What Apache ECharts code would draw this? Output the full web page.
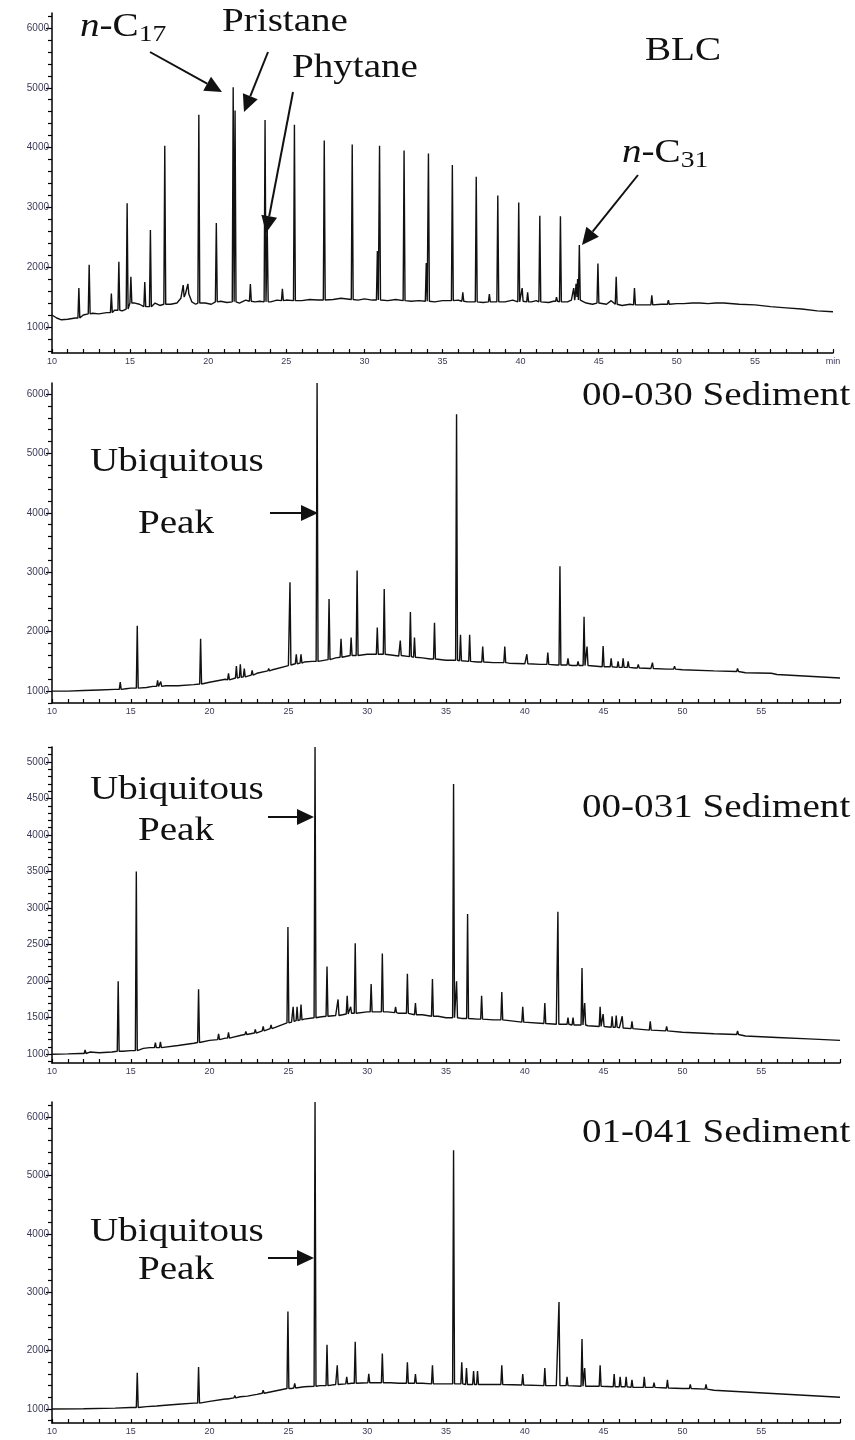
<!DOCTYPE html>
<html><head><meta charset="utf-8">
<script src="https://cdn.jsdelivr.net/npm/echarts@6/dist/echarts.min.js"></script>
<style>html,body{margin:0;padding:0;background:#fff}#c{width:855px;height:1440px}</style>
</head><body><div id="c"></div>
<script>
// ---------- DATA (retention time in min, abundance) ----------
const xTickLabels = [10, 15, 20, 25, 30, 35, 40, 45, 50, 55];
const yTicksMain = [1000, 2000, 3000, 4000, 5000, 6000];
const yTicksP3 = [1000, 1500, 2000, 2500, 3000, 3500, 4000, 4500, 5000];

// Panel 1: BLC  baseline [t, v]; peaks [t, base, top]
const blcBaseline = [[10,1200],[10.3,1150],[10.6,1120],[11,1130],[11.5,1150],[12,1200],[12.6,1230],[13,1220],[13.5,1240],[14,1280],[14.5,1270],[15.3,1400],[15.6,1380],[16,1330],[16.6,1400],[16.9,1360],[17.6,1380],[18,1400],[18.25,1480],[18.55,1560],[18.95,1420],[19.2,1380],[19.8,1400],[20.2,1380],[20.8,1430],[21.2,1410],[22,1400],[22.4,1450],[23,1420],[23.3,1430],[24,1420],[24.4,1450],[25,1450],[26,1440],[26.5,1460],[27,1450],[28,1460],[28.5,1480],[29.6,1450],[30,1470],[30.5,1450],[31.5,1440],[32,1460],[33,1430],[33.5,1440],[34.5,1420],[35,1440],[36,1450],[36.6,1420],[37.6,1410],[38,1440],[39,1420],[39.5,1450],[40.7,1420],[41,1440],[41.8,1410],[42.1,1430],[43,1420],[43.25,1450],[44.2,1400],[44.6,1380],[45.5,1380],[45.8,1440],[46.5,1360],[47,1380],[47.7,1370],[48,1370],[49,1380],[50,1390],[51,1400],[52,1390],[53,1400],[54,1380],[55,1370],[56,1340],[57,1320],[58,1300],[59,1270],[60,1255]];
const blcPeaks = [[11.72,1150,1650],[12.38,1220,2040],[13.8,1240,1560],[14.28,1280,2090],[14.81,1300,3070],[15.05,1400,1840],[15.94,1340,1750],[16.3,1340,2620],[17.22,1380,4030],[18.4,1500,1700],[18.7,1550,1720],[19.4,1400,4550],[20.52,1420,2740],[21.6,1420,5010],[21.72,1420,4620],[22.7,1430,1720],[23.64,1420,4460],[23.78,1420,2650],[24.75,1440,1640],[25.52,1440,4380],[27.43,1450,4120],[29.22,1460,4050],[30.83,1450,2270],[30.97,1450,4030],[32.54,1440,3950],[33.96,1430,2070],[34.1,1430,3900],[35.63,1440,3710],[36.3,1430,1580],[37.16,1420,3510],[38.0,1420,1550],[38.54,1420,3200],[39.88,1420,3080],[40.1,1430,1650],[40.45,1420,1580],[41.23,1420,2860],[42.3,1430,1500],[42.55,1420,2850],[43.4,1450,1650],[43.55,1500,1720],[43.65,1600,1800],[43.76,1450,2370],[44.95,1400,2060],[46.12,1380,1840],[47.29,1370,1650],[48.4,1370,1530],[49.46,1380,1450],[50.49,1390,1420],[51.55,1400,1420],[52.53,1400,1410]];

// Panel 2: 00-030 Sediment
const s030Baseline = [[10,1000],[11,1000],[12,1010],[13,1020],[14,1030],[14.7,1040],[15,1050],[16,1060],[16.4,1080],[17.2,1090],[18,1090],[19,1110],[20,1150],[21,1200],[22,1250],[23,1300],[24,1360],[25,1430],[26,1490],[26.5,1500],[27,1520],[28,1560],[29,1600],[30,1620],[31,1620],[32,1590],[33.5,1560],[34,1540],[35,1520],[36,1500],[37,1490],[38,1480],[39,1470],[40,1460],[41,1450],[42,1440],[43,1430],[44,1420],[45,1410],[46,1400],[47,1390],[48,1380],[49,1370],[50,1360],[52,1340],[54,1310],[56,1280],[58,1250],[60,1220]];
const s030Peaks = [[14.33,1030,1150],[15.41,1050,2100],[16.7,1080,1180],[16.9,1080,1160],[19.43,1120,1880],[21.2,1190,1300],[21.7,1220,1420],[21.95,1230,1450],[22.2,1240,1380],[22.7,1270,1350],[23.75,1340,1380],[25.1,1440,2830],[25.5,1460,1620],[25.8,1470,1620],[26.82,1500,6185],[27.58,1530,2550],[28.34,1570,1880],[28.98,1600,1900],[29.36,1600,3030],[30.64,1620,2070],[31.08,1620,2720],[32.1,1600,1850],[32.74,1580,2330],[33.0,1570,1900],[34.27,1540,2150],[35.67,1520,5660],[35.92,1510,1950],[36.5,1500,1950],[37.33,1490,1750],[38.73,1480,1750],[40.13,1460,1620],[41.46,1450,1650],[42.23,1440,3100],[42.74,1440,1550],[43.38,1430,1500],[43.76,1430,2250],[43.95,1430,1750],[44.97,1410,1760],[45.48,1410,1550],[45.92,1400,1500],[46.24,1400,1550],[46.56,1400,1500],[47.2,1390,1450],[48.1,1380,1480],[49.5,1370,1420],[53.5,1330,1380],[55.7,1300,1330]];

// Panel 3: 00-031 Sediment
const s031Baseline = [[10,1000],[11,1005],[11.8,1010],[12.4,1030],[13,1020],[13.8,1030],[14.5,1040],[15,1050],[15.8,1080],[16.2,1090],[17,1100],[18,1120],[19,1150],[20,1190],[21,1220],[22,1260],[23,1300],[24,1360],[25.2,1440],[26,1480],[27,1510],[28,1530],[29,1560],[30,1580],[31.3,1580],[32,1560],[33.5,1540],[34.5,1520],[35,1500],[36,1490],[37,1480],[38,1470],[40,1440],[42,1410],[44,1390],[46,1360],[48,1330],[50,1300],[52,1280],[54,1250],[56,1230],[58,1210],[60,1190]];
const s031Peaks = [[12.1,1010,1060],[14.2,1040,2000],[15.35,1050,3500],[16.56,1090,1160],[16.88,1090,1170],[19.3,1160,1890],[20.57,1200,1280],[21.2,1220,1300],[22.3,1270,1310],[22.9,1290,1340],[23.4,1320,1380],[23.9,1350,1400],[24.97,1430,2740],[25.3,1450,1650],[25.55,1460,1650],[25.8,1470,1680],[26.69,1500,5205],[27.45,1520,2200],[28.15,1530,1750],[28.73,1550,1800],[28.95,1560,1650],[29.24,1560,2520],[30.25,1580,1960],[30.96,1580,2380],[31.8,1570,1650],[32.55,1560,2100],[33.06,1540,1700],[34.14,1520,2030],[35.48,1500,4700],[35.67,1500,2000],[36.37,1490,2920],[37.26,1480,1800],[38.54,1470,1850],[39.87,1440,1650],[41.27,1420,1700],[42.1,1410,2950],[42.74,1410,1500],[43.06,1400,1500],[43.63,1400,2180],[43.8,1400,1700],[44.78,1380,1650],[44.97,1380,1550],[45.54,1370,1520],[45.8,1370,1530],[46.18,1360,1520],[46.8,1350,1450],[47.96,1330,1450],[49.0,1320,1380],[53.5,1270,1320]];

// Panel 4: 01-041 Sediment
const s041Baseline = [[10,1000],[12,1005],[14,1015],[15,1025],[16,1040],[17,1060],[18,1080],[19,1100],[20,1130],[21,1170],[22.4,1220],[23,1250],[24,1300],[25.2,1350],[26,1380],[27,1400],[28,1420],[29,1440],[30.5,1450],[31.5,1450],[32,1440],[33.5,1440],[35,1430],[37.5,1420],[40,1410],[42,1400],[44,1390],[46.2,1380],[48,1370],[50,1350],[52,1320],[54,1290],[56,1260],[58,1230],[60,1200]];
const s041Peaks = [[15.41,1025,1620],[16.7,1050,1080],[19.3,1100,1720],[21.2,1170,1200],[21.6,1190,1230],[22.0,1210,1240],[23.4,1270,1320],[24.97,1350,2670],[25.4,1360,1440],[26.69,1390,6257],[27.45,1400,2100],[28.1,1420,1750],[28.7,1430,1550],[29.24,1440,2150],[30.1,1450,1600],[30.96,1450,1950],[32.55,1440,1800],[33.06,1440,1600],[34.14,1430,1750],[35.48,1430,5430],[36.0,1430,1800],[36.3,1420,1700],[36.75,1420,1650],[37.0,1420,1650],[38.54,1420,1750],[39.87,1410,1600],[41.27,1400,1700],[42.17,1400,2830],[42.68,1400,1550],[43.63,1390,2200],[43.8,1390,1700],[44.78,1390,1750],[45.67,1380,1600],[46.05,1380,1550],[46.43,1380,1550],[46.8,1370,1500],[47.58,1370,1550],[48.2,1370,1450],[49.05,1360,1500],[50.5,1350,1420],[51.5,1340,1420]];

// ---------- BUILD ----------
const HW = 0.06;
function trace(base, peaks) {
  const pts = base.filter(b => !peaks.some(p => Math.abs(p[0] - b[0]) < HW + 0.02)).map(b => [b[0], b[1]]);
  peaks.forEach(p => { pts.push([p[0] - HW, p[1]], [p[0], p[2]], [p[0] + HW, p[1]]); });
  pts.sort((a, b) => a[0] - b[0]);
  return pts;
}
const traces = [trace(blcBaseline, blcPeaks), trace(s030Baseline, s030Peaks), trace(s031Baseline, s031Peaks), trace(s041Baseline, s041Peaks)];

const grids = [
  {left: 52, top: 13, width: 781, height: 340},
  {left: 52, top: 383, width: 788, height: 320},
  {left: 52, top: 747, width: 788, height: 316},
  {left: 52, top: 1102, width: 788, height: 321}
];
const yRange = [[565, 6250], [800, 6185], [880, 5205], [760, 6257]];
const yMajor = [yTicksMain, yTicksMain, yTicksP3, yTicksMain];
const yMinorStep = [200, 200, 100, 200];

const labelFont = {fontSize: 10, color: '#3a3a55', fontFamily: 'Liberation Sans, Arial, sans-serif'};
const xAxes = [], yAxes = [], series = [];
grids.forEach((g, i) => {
  xAxes.push({
    gridIndex: i, type: 'value', min: 10, max: 60, interval: 5,
    axisLine: {lineStyle: {color: '#000', width: 1.5}},
    axisTick: {inside: true, length: 4, lineStyle: {color: '#000', width: 1.2}},
    minorTick: {show: true, splitNumber: 5, length: 4, lineStyle: {color: '#000', width: 1.2}},
    splitLine: {show: false},
    axisLabel: Object.assign({margin: 4, showMinLabel: true, showMaxLabel: true,
      formatter: v => (v === 60 ? (i === 0 ? 'min' : '') : (xTickLabels.includes(v) ? String(v) : ''))}, labelFont, {fontSize: 9})
  });
  const minors = [];
  for (let v = Math.ceil(yRange[i][0] / yMinorStep[i]) * yMinorStep[i]; v <= yRange[i][1]; v += yMinorStep[i]) {
    if (!yMajor[i].includes(v)) minors.push(v);
  }
  yAxes.push({
    gridIndex: i, type: 'value', min: yRange[i][0], max: yRange[i][1],
    axisLine: {show: true, lineStyle: {color: '#000', width: 1.5}},
    axisTick: {show: true, length: 6, customValues: yMajor[i], lineStyle: {color: '#000', width: 1.2}},
    axisLabel: Object.assign({margin: 3, customValues: yMajor[i], formatter: v => String(v)}, labelFont),
    splitLine: {show: false}
  });
  yAxes.push({
    gridIndex: i, type: 'value', min: yRange[i][0], max: yRange[i][1], position: 'left',
    axisLine: {show: false},
    axisTick: {show: true, length: 4, customValues: minors, lineStyle: {color: '#000', width: 1.2}},
    axisLabel: {show: false},
    splitLine: {show: false}
  });
  series.push({
    type: 'line', xAxisIndex: i, yAxisIndex: i * 2, data: traces[i],
    showSymbol: false, symbol: 'none', clip: true, animation: false,
    lineStyle: {color: '#111', width: 1.4}, silent: true
  });
});

// ---------- ANNOTATIONS ----------
const SERIF = '"Liberation Serif", "Times New Roman", serif';
const FS = 34, SX = 1.15;
function txt(x, y, text, rich) {
  return {type: 'text', x: x, y: y, scaleX: SX, z: 10,
    style: {text: text, fontSize: FS, fontFamily: SERIF, fill: '#111', verticalAlign: 'middle', align: 'left', rich: rich}};
}
const subRich = {
  i: {fontStyle: 'italic', fontSize: FS, fontFamily: SERIF, fill: '#111'},
  n: {fontSize: FS, fontFamily: SERIF, fill: '#111'},
  s: {fontSize: 24, fontFamily: SERIF, fill: '#111', padding: [16, 0, 0, 0]}
};
function arrow(x1, y1, x2, y2) {
  const L = 17, Wd = 8;
  const dx = x2 - x1, dy = y2 - y1, d = Math.hypot(dx, dy), ux = dx / d, uy = dy / d;
  const bx = x2 - ux * L, by = y2 - uy * L;
  return [
    {type: 'line', z: 10, shape: {x1: x1, y1: y1, x2: bx, y2: by}, style: {stroke: '#111', lineWidth: 2}},
    {type: 'polygon', z: 10, shape: {points: [[x2, y2], [bx - uy * Wd, by + ux * Wd], [bx + uy * Wd, by - ux * Wd]]}, style: {fill: '#111'}}
  ];
}
const graphics = [
  txt(80, 27, '{i|n}{n|-C}{s|17}', subRich),
  txt(222, 22, 'Pristane'),
  txt(292, 68, 'Phytane'),
  txt(645, 51, 'BLC'),
  txt(622, 153, '{i|n}{n|-C}{s|31}', subRich),
  ...arrow(150, 52, 222, 92),
  ...arrow(268, 52, 244, 112),
  ...arrow(293, 92, 266, 233),
  ...arrow(638, 175, 582, 245),
  txt(582, 396, '00-030 Sediment'),
  txt(90, 462, 'Ubiquitous'),
  txt(138, 524, 'Peak'),
  ...arrow(270, 513, 318, 513),
  txt(582, 808, '00-031 Sediment'),
  txt(90, 790, 'Ubiquitous'),
  txt(138, 831, 'Peak'),
  ...arrow(268, 817, 314, 817),
  txt(582, 1133, '01-041 Sediment'),
  txt(90, 1232, 'Ubiquitous'),
  txt(138, 1270, 'Peak'),
  ...arrow(268, 1258, 314, 1258)
];

const chart = echarts.init(document.getElementById('c'), null, {renderer: 'canvas'});
chart.setOption({
  animation: false,
  backgroundColor: '#fff',
  grid: grids,
  xAxis: xAxes,
  yAxis: yAxes,
  series: series,
  graphic: graphics
});
</script>
</body></html>
